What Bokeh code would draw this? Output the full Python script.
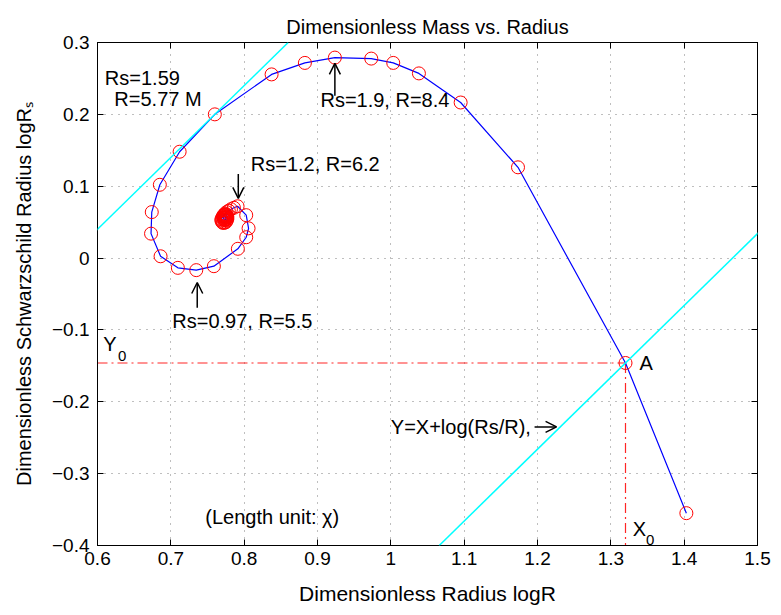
from bokeh.plotting import figure
from bokeh.models import (Label, Arrow, OpenHead, Slope, FixedTicker,
                          LinearAxis, Range1d)
from bokeh.embed import file_html
from bokeh.resources import INLINE

# ---------------- data ----------------
logR = [1.403, 1.320, 1.1734, 1.0952, 1.0383, 1.0033, 0.9733, 0.9237, 0.8828,
        0.8374, 0.760, 0.712, 0.685, 0.674, 0.673, 0.686, 0.7096, 0.7347,
        0.7587, 0.7914, 0.8028, 0.806, 0.8028, 0.791,
        0.786, 0.782, 0.779, 0.776, 0.774, 0.772, 0.771, 0.770, 0.769, 0.769,
        0.770, 0.771, 0.773, 0.775, 0.776, 0.777, 0.777, 0.777, 0.776, 0.775,
        0.774, 0.773, 0.772, 0.772, 0.773, 0.774, 0.775, 0.775, 0.775, 0.774,
        0.774]
logRs = [-0.355, -0.146, 0.1263, 0.2165, 0.257, 0.2716, 0.2776, 0.279, 0.2716,
         0.2556, 0.200, 0.148, 0.102, 0.064, 0.034, 0.0025, -0.0136, -0.0168,
         -0.0113, 0.0129, 0.029, 0.0414, 0.0597, 0.0721,
         0.070, 0.068, 0.066, 0.064, 0.062, 0.060, 0.058, 0.056, 0.054, 0.052,
         0.050, 0.049, 0.049, 0.050, 0.052, 0.054, 0.056, 0.058, 0.060, 0.061,
         0.060, 0.059, 0.057, 0.055, 0.053, 0.053, 0.054, 0.056, 0.057, 0.057,
         0.056]

# tangent lines Y = X + log(Rs/R)
tangent_offsets = [-0.56, -1.466]

# point A (intersection)
A_x, A_y = 1.320, -0.146

x_ticks = [0.6, 0.7, 0.8, 0.9, 1.0, 1.1, 1.2, 1.3, 1.4, 1.5]
x_tick_labels = ["0.6", "0.7", "0.8", "0.9", "1", "1.1", "1.2", "1.3", "1.4", "1.5"]
y_ticks = [-0.4, -0.3, -0.2, -0.1, 0.0, 0.1, 0.2, 0.3]
y_tick_labels = ["−0.4", "−0.3", "−0.2", "−0.1", "0", "0.1", "0.2", "0.3"]

TITLE = "Dimensionless Mass vs. Radius"
FONT = "Liberation Sans"

p = figure(width=773, height=607, output_backend="svg", toolbar_location=None,
           x_range=Range1d(0.6, 1.5), y_range=Range1d(-0.4, 0.3),
           min_border_left=97, min_border_right=16, min_border_top=42,
           min_border_bottom=56, title=TITLE)
p.title.align = "center"
p.title.text_font = FONT
p.title.text_font_size = "20px"
p.title.text_font_style = "normal"
p.title.text_color = "black"
p.title.standoff = 10

p.outline_line_color = "black"
p.outline_line_width = 1
p.background_fill_color = "white"
p.border_fill_color = "white"

for ax, ticks, labels in ((p.xaxis[0], x_ticks, x_tick_labels),
                          (p.yaxis[0], y_ticks, y_tick_labels)):
    ax.ticker = FixedTicker(ticks=ticks)
    ax.major_label_overrides = {t: l for t, l in zip(ticks, labels)}
    ax.major_tick_in = 6
    ax.major_tick_out = 0
    ax.minor_tick_line_color = None
    ax.axis_line_color = "black"
    ax.major_tick_line_color = "black"
    ax.major_label_text_font = FONT
    ax.major_label_text_font_size = "19px"
    ax.major_label_text_color = "black"
    ax.axis_label_text_font = FONT
    ax.axis_label_text_font_style = "normal"
    ax.axis_label_text_color = "black"

p.xaxis.axis_label = "Dimensionless Radius logR"
p.yaxis.axis_label = "Dimensionless Schwarzschild Radius logRₛ"
p.xaxis.axis_label_text_font_size = "21px"
p.yaxis.axis_label_text_font_size = "20px"
p.xaxis.major_label_standoff = 6
p.yaxis.major_label_standoff = 8
p.xaxis.axis_label_standoff = 14
p.yaxis.axis_label_standoff = 14

# box ticks on top and right (no labels)
for loc, ticks in (("above", x_ticks), ("right", y_ticks)):
    ax = LinearAxis(ticker=FixedTicker(ticks=ticks), major_tick_in=6,
                    major_tick_out=0, minor_tick_line_color=None,
                    major_label_text_color=None, axis_line_color="black",
                    major_label_standoff=0)
    p.add_layout(ax, loc)

p.xgrid.ticker = FixedTicker(ticks=x_ticks)
p.ygrid.ticker = FixedTicker(ticks=y_ticks)
p.grid.grid_line_color = "#7f7f7f"
p.grid.grid_line_dash = "1 6"
p.grid.grid_line_width = 1

# tangent lines
for off in tangent_offsets:
    p.add_layout(Slope(gradient=1, y_intercept=off, line_color="#00ffff",
                       line_width=1.5))

# dash-dot guide lines to A
p.line([0.6, A_x], [A_y, A_y], line_color="#ff0000", line_dash="10 4 2 4",
       line_width=1.2, line_alpha=0.85)
p.line([A_x, A_x], [A_y, -0.4], line_color="#ff0000", line_dash="10 4 2 4",
       line_width=1.2, line_alpha=0.85)

# curve and markers
p.line(logR, logRs, line_color="#0000ff", line_width=1.2)
p.scatter(logR, logRs, marker="circle", size=13, fill_color=None,
          line_color="#ff0000", line_width=1)

def lab(x, y, text, size="20px", align="left", baseline="middle"):
    p.add_layout(Label(x=x, y=y, text=text, text_font=FONT,
                       text_font_size=size, text_align=align,
                       text_baseline=baseline, text_color="black"))

lab(0.610, 0.250, "Rs=1.59")
lab(0.623, 0.222, "R=5.77  M")
lab(0.904, 0.220, "Rs=1.9, R=8.4")
lab(0.809, 0.131, "Rs=1.2, R=6.2")
lab(0.702, -0.087, "Rs=0.97, R=5.5")
lab(0.608, -0.120, "Y")
lab(0.628, -0.136, "0", size="15px")
lab(1.339, -0.146, "A")
lab(1.330, -0.377, "X")
lab(1.348, -0.392, "0", size="15px")
lab(1.0, -0.235, "Y=X+log(Rs/R),")
lab(0.747, -0.360, "(Length unit: χ)")

def arr(x0, y0, x1, y1):
    p.add_layout(Arrow(end=OpenHead(size=11, line_width=1.5, line_color="black"),
                       x_start=x0, y_start=y0, x_end=x1, y_end=y1,
                       line_color="black", line_width=1.5))

arr(0.9237, 0.226, 0.9237, 0.271)
arr(0.792, 0.117, 0.792, 0.083)
arr(0.736, -0.069, 0.736, -0.034)
arr(1.196, -0.235, 1.226, -0.235)

open("out.html", "w").write(file_html(p, INLINE))
